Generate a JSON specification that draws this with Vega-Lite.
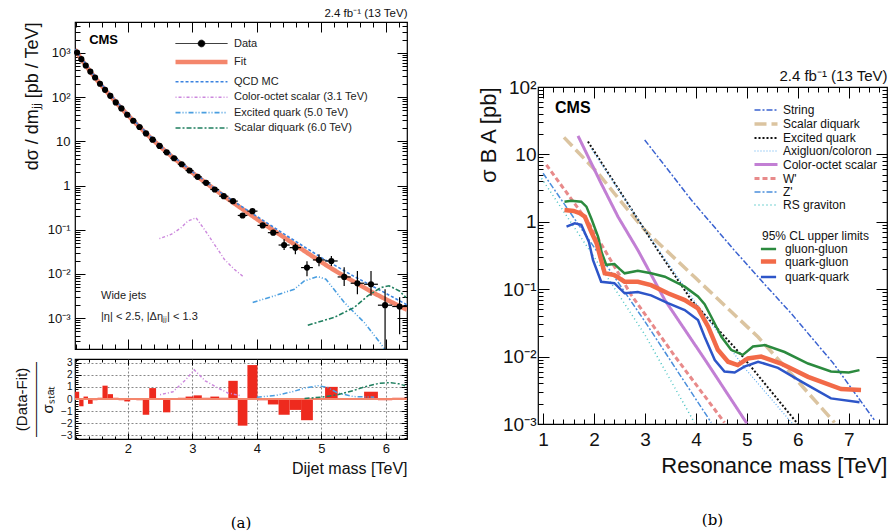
{
"$schema": "https://vega.github.io/schema/vega-lite/v6.json",
"background": "white",
"padding": {"left": 13, "top": 6, "right": 0, "bottom": 0},
"datasets": {
"pts": [
{"m":1.2135,"lo":1.181,"hi":1.246,"y":1020,"ylo":1005,"yhi":1035,"r":0.6},
{"m":1.2795,"lo":1.246,"hi":1.313,"y":721,"ylo":711,"yhi":731,"r":-0.6},
{"m":1.348,"lo":1.313,"hi":1.383,"y":518,"ylo":511,"yhi":525,"r":0.2},
{"m":1.419,"lo":1.383,"hi":1.455,"y":378,"ylo":372,"yhi":384,"r":-0.4},
{"m":1.4925,"lo":1.455,"hi":1.53,"y":277,"ylo":272,"yhi":282,"r":-0.1},
{"m":1.5685,"lo":1.53,"hi":1.607,"y":200,"ylo":196,"yhi":204,"r":0.1},
{"m":1.647,"lo":1.607,"hi":1.687,"y":146,"ylo":143,"yhi":149,"r":1.1},
{"m":1.7285,"lo":1.687,"hi":1.77,"y":107,"ylo":105,"yhi":109,"r":0.4},
{"m":1.813,"lo":1.77,"hi":1.856,"y":75.7,"ylo":74,"yhi":77.4,"r":0.1},
{"m":1.9005,"lo":1.856,"hi":1.945,"y":55.5,"ylo":54.2,"yhi":56.8,"r":-0.1},
{"m":1.991,"lo":1.945,"hi":2.037,"y":39.9,"ylo":38.9,"yhi":40.9,"r":-0.2},
{"m":2.0845,"lo":2.037,"hi":2.132,"y":29.2,"ylo":28.4,"yhi":30,"r":0.05},
{"m":2.1815,"lo":2.132,"hi":2.231,"y":21.1,"ylo":20.5,"yhi":21.7,"r":-0.1},
{"m":2.2815,"lo":2.231,"hi":2.332,"y":15.1,"ylo":14.6,"yhi":15.6,"r":-1.3},
{"m":2.385,"lo":2.332,"hi":2.438,"y":10.9,"ylo":10.5,"yhi":11.3,"r":0.9},
{"m":2.492,"lo":2.438,"hi":2.546,"y":7.85,"ylo":7.55,"yhi":8.15,"r":0.02},
{"m":2.6025,"lo":2.546,"hi":2.659,"y":5.62,"ylo":5.38,"yhi":5.86,"r":-1.1},
{"m":2.717,"lo":2.659,"hi":2.775,"y":4.13,"ylo":3.94,"yhi":4.32,"r":0.02},
{"m":2.835,"lo":2.775,"hi":2.895,"y":3.02,"ylo":2.87,"yhi":3.17,"r":0.1},
{"m":2.957,"lo":2.895,"hi":3.019,"y":2.18,"ylo":2.06,"yhi":2.3,"r":0.2},
{"m":3.083,"lo":3.019,"hi":3.147,"y":1.57,"ylo":1.47,"yhi":1.67,"r":0.3},
{"m":3.213,"lo":3.147,"hi":3.279,"y":1.15,"ylo":1.07,"yhi":1.23,"r":0.1},
{"m":3.3475,"lo":3.279,"hi":3.416,"y":0.813,"ylo":0.75,"yhi":0.88,"r":0.2},
{"m":3.487,"lo":3.416,"hi":3.558,"y":0.573,"ylo":0.52,"yhi":0.63,"r":0.1},
{"m":3.631,"lo":3.558,"hi":3.704,"y":0.443,"ylo":0.4,"yhi":0.49,"r":1.5},
{"m":3.779,"lo":3.704,"hi":3.854,"y":0.21,"ylo":0.185,"yhi":0.237,"r":-2.2},
{"m":3.932,"lo":3.854,"hi":4.01,"y":0.263,"ylo":0.235,"yhi":0.295,"r":2.8},
{"m":4.0905,"lo":4.01,"hi":4.171,"y":0.125,"ylo":0.11,"yhi":0.142,"r":-0.1},
{"m":4.254,"lo":4.171,"hi":4.337,"y":0.0857,"ylo":0.075,"yhi":0.098,"r":-0.45},
{"m":4.423,"lo":4.337,"hi":4.509,"y":0.045,"ylo":0.0347,"yhi":0.0605,"r":-1.3},
{"m":4.5975,"lo":4.509,"hi":4.686,"y":0.0393,"ylo":0.0277,"yhi":0.049,"r":-0.9},
{"m":4.7775,"lo":4.686,"hi":4.869,"y":0.0139,"ylo":0.00885,"yhi":0.0193,"r":-1.75},
{"m":4.9635,"lo":4.869,"hi":5.058,"y":0.0207,"ylo":0.0149,"yhi":0.0277,"r":0.05},
{"m":5.1555,"lo":5.058,"hi":5.253,"y":0.0196,"ylo":0.0151,"yhi":0.0254,"r":1.0},
{"m":5.354,"lo":5.253,"hi":5.455,"y":0.00853,"ylo":0.0053,"yhi":0.0141,"r":0.02},
{"m":5.559,"lo":5.455,"hi":5.663,"y":0.00615,"ylo":0.00347,"yhi":0.0117,"r":0.02},
{"m":5.77,"lo":5.663,"hi":5.877,"y":0.00583,"ylo":0.0032,"yhi":0.0117,"r":0.6},
{"m":5.988,"lo":5.877,"hi":6.099,"y":0.00196,"ylo":0.00005,"yhi":0.0045,"r":-0.1},
{"m":6.2135,"lo":6.099,"hi":6.328,"y":0.00183,"ylo":0.00043,"yhi":0.00296,"r":0.1}
],
"curvesA": [
{"s":"Fit","m":1.181,"v":1202},{"s":"Fit","m":1.2135,"v":1012},{"s":"Fit","m":1.2795,"v":721},{"s":"Fit","m":1.348,"v":518},{"s":"Fit","m":1.419,"v":376},{"s":"Fit","m":1.4925,"v":275},{"s":"Fit","m":1.5685,"v":200},{"s":"Fit","m":1.647,"v":146},{"s":"Fit","m":1.7285,"v":107},{"s":"Fit","m":1.813,"v":76.7},{"s":"Fit","m":1.9005,"v":55.6},{"s":"Fit","m":1.991,"v":40.3},{"s":"Fit","m":2.0845,"v":29.2},{"s":"Fit","m":2.1815,"v":21.1},{"s":"Fit","m":2.2815,"v":15.1},{"s":"Fit","m":2.385,"v":10.9},{"s":"Fit","m":2.492,"v":7.85},{"s":"Fit","m":2.6025,"v":5.65},{"s":"Fit","m":2.717,"v":4.11},{"s":"Fit","m":2.835,"v":3.0},{"s":"Fit","m":2.957,"v":2.18},{"s":"Fit","m":3.083,"v":1.58},{"s":"Fit","m":3.213,"v":1.14},{"s":"Fit","m":3.3475,"v":0.817},{"s":"Fit","m":3.487,"v":0.582},{"s":"Fit","m":3.631,"v":0.412},{"s":"Fit","m":3.779,"v":0.292},{"s":"Fit","m":3.932,"v":0.204},{"s":"Fit","m":4.0905,"v":0.141},{"s":"Fit","m":4.254,"v":0.0977},{"s":"Fit","m":4.423,"v":0.0668},{"s":"Fit","m":4.5975,"v":0.0452},{"s":"Fit","m":4.7775,"v":0.0302},{"s":"Fit","m":4.9635,"v":0.02},{"s":"Fit","m":5.1555,"v":0.0133},{"s":"Fit","m":5.354,"v":0.00891},{"s":"Fit","m":5.559,"v":0.00603},{"s":"Fit","m":5.77,"v":0.00398},{"s":"Fit","m":5.988,"v":0.00272},{"s":"Fit","m":6.2135,"v":0.00186},{"s":"Fit","m":6.328,"v":0.00155},
{"s":"QCD MC","m":1.181,"v":1210},{"s":"QCD MC","m":1.5,"v":280},{"s":"QCD MC","m":2.0,"v":40.5},{"s":"QCD MC","m":2.5,"v":7.95},{"s":"QCD MC","m":3.0,"v":2.05},{"s":"QCD MC","m":3.5,"v":0.6},{"s":"QCD MC","m":4.0,"v":0.2},{"s":"QCD MC","m":4.5,"v":0.0676},{"s":"QCD MC","m":5.0,"v":0.0234},{"s":"QCD MC","m":5.5,"v":0.0089},{"s":"QCD MC","m":6.0,"v":0.00363},{"s":"QCD MC","m":6.328,"v":0.002},
{"s":"Color-octet scalar (3.1 TeV)","m":2.489,"v":0.063},{"s":"Color-octet scalar (3.1 TeV)","m":2.67,"v":0.078},{"s":"Color-octet scalar (3.1 TeV)","m":2.824,"v":0.11},{"s":"Color-octet scalar (3.1 TeV)","m":2.928,"v":0.156},{"s":"Color-octet scalar (3.1 TeV)","m":3.057,"v":0.186},{"s":"Color-octet scalar (3.1 TeV)","m":3.186,"v":0.102},{"s":"Color-octet scalar (3.1 TeV)","m":3.341,"v":0.047},{"s":"Color-octet scalar (3.1 TeV)","m":3.496,"v":0.0214},{"s":"Color-octet scalar (3.1 TeV)","m":3.65,"v":0.0127},{"s":"Color-octet scalar (3.1 TeV)","m":3.78,"v":0.0089},
{"s":"Excited quark (5.0 TeV)","m":3.936,"v":0.00226},{"s":"Excited quark (5.0 TeV)","m":4.27,"v":0.00318},{"s":"Excited quark (5.0 TeV)","m":4.581,"v":0.00451},{"s":"Excited quark (5.0 TeV)","m":4.736,"v":0.00692},{"s":"Excited quark (5.0 TeV)","m":4.944,"v":0.0087},{"s":"Excited quark (5.0 TeV)","m":5.07,"v":0.0076},{"s":"Excited quark (5.0 TeV)","m":5.356,"v":0.00226},{"s":"Excited quark (5.0 TeV)","m":5.667,"v":0.00079},{"s":"Excited quark (5.0 TeV)","m":5.925,"v":0.00026},{"s":"Excited quark (5.0 TeV)","m":6.0,"v":0.00018},
{"s":"Scalar diquark (6.0 TeV)","m":4.79,"v":0.00069},{"s":"Scalar diquark (6.0 TeV)","m":5.2,"v":0.00104},{"s":"Scalar diquark (6.0 TeV)","m":5.51,"v":0.00174},{"s":"Scalar diquark (6.0 TeV)","m":5.72,"v":0.00318},{"s":"Scalar diquark (6.0 TeV)","m":5.925,"v":0.00492},{"s":"Scalar diquark (6.0 TeV)","m":6.05,"v":0.00537},{"s":"Scalar diquark (6.0 TeV)","m":6.21,"v":0.00412},{"s":"Scalar diquark (6.0 TeV)","m":6.31,"v":0.00295}
],
"ratioSig": [
{"s":"Color-octet scalar (3.1 TeV)","m":2.5,"v":0.35},{"s":"Color-octet scalar (3.1 TeV)","m":2.7,"v":0.6},{"s":"Color-octet scalar (3.1 TeV)","m":2.9,"v":1.6},{"s":"Color-octet scalar (3.1 TeV)","m":3.03,"v":2.4},{"s":"Color-octet scalar (3.1 TeV)","m":3.2,"v":1.5},{"s":"Color-octet scalar (3.1 TeV)","m":3.4,"v":0.9},{"s":"Color-octet scalar (3.1 TeV)","m":3.55,"v":0.5},{"s":"Color-octet scalar (3.1 TeV)","m":3.75,"v":0.27},
{"s":"Excited quark (5.0 TeV)","m":4.0,"v":0.15},{"s":"Excited quark (5.0 TeV)","m":4.3,"v":0.3},{"s":"Excited quark (5.0 TeV)","m":4.55,"v":0.6},{"s":"Excited quark (5.0 TeV)","m":4.74,"v":0.9},{"s":"Excited quark (5.0 TeV)","m":4.95,"v":1.1},{"s":"Excited quark (5.0 TeV)","m":5.1,"v":0.95},{"s":"Excited quark (5.0 TeV)","m":5.25,"v":0.5},{"s":"Excited quark (5.0 TeV)","m":5.5,"v":0.2},{"s":"Excited quark (5.0 TeV)","m":5.82,"v":0.15},
{"s":"Scalar diquark (6.0 TeV)","m":4.74,"v":0.05},{"s":"Scalar diquark (6.0 TeV)","m":5.0,"v":0.15},{"s":"Scalar diquark (6.0 TeV)","m":5.25,"v":0.35},{"s":"Scalar diquark (6.0 TeV)","m":5.5,"v":0.7},{"s":"Scalar diquark (6.0 TeV)","m":5.67,"v":1.0},{"s":"Scalar diquark (6.0 TeV)","m":5.9,"v":1.3},{"s":"Scalar diquark (6.0 TeV)","m":6.08,"v":1.35},{"s":"Scalar diquark (6.0 TeV)","m":6.2,"v":1.25},{"s":"Scalar diquark (6.0 TeV)","m":6.3,"v":1.1}
],
"theory": [
{"s":"String","m":2.994,"v":16.4},{"s":"String","m":3.5,"v":5.3},{"s":"String","m":3.91,"v":2.1},{"s":"String","m":4.75,"v":0.38},{"s":"String","m":5.3,"v":0.13},{"s":"String","m":5.87,"v":0.0437},{"s":"String","m":6.7,"v":0.0079},{"s":"String","m":7.5,"v":0.00115},
{"s":"Scalar diquark","m":1.41,"v":17.9},{"s":"Scalar diquark","m":2.08,"v":5.25},{"s":"Scalar diquark","m":2.4,"v":2.63},{"s":"Scalar diquark","m":2.99,"v":0.76},{"s":"Scalar diquark","m":4.0,"v":0.145},{"s":"Scalar diquark","m":5.22,"v":0.0195},{"s":"Scalar diquark","m":6.0,"v":0.0043},{"s":"Scalar diquark","m":6.72,"v":0.00105},
{"s":"Excited quark","m":1.88,"v":15.5},{"s":"Excited quark","m":2.5,"v":2.9},{"s":"Excited quark","m":3.25,"v":0.38},{"s":"Excited quark","m":3.91,"v":0.069},{"s":"Excited quark","m":4.89,"v":0.0106},{"s":"Excited quark","m":6.0,"v":0.001},
{"s":"Axigluon/coloron","m":1.95,"v":12},{"s":"Axigluon/coloron","m":3.0,"v":0.75},{"s":"Axigluon/coloron","m":4.0,"v":0.062},{"s":"Axigluon/coloron","m":5.0,"v":0.0062},{"s":"Axigluon/coloron","m":5.9,"v":0.001},
{"s":"Color-octet scalar","m":1.686,"v":18.8},{"s":"Color-octet scalar","m":2.14,"v":3.7},{"s":"Color-octet scalar","m":2.47,"v":1.19},{"s":"Color-octet scalar","m":2.86,"v":0.38},{"s":"Color-octet scalar","m":3.39,"v":0.069},{"s":"Color-octet scalar","m":4.2,"v":0.0085},{"s":"Color-octet scalar","m":5.0,"v":0.00102},
{"s":"W'","m":1.065,"v":7.0},{"s":"W'","m":1.9,"v":0.95},{"s":"W'","m":2.73,"v":0.082},{"s":"W'","m":3.6,"v":0.0098},{"s":"W'","m":4.56,"v":0.00105},
{"s":"Z'","m":1.0,"v":5.25},{"s":"Z'","m":2.0,"v":0.42},{"s":"Z'","m":3.0,"v":0.033},{"s":"Z'","m":4.3,"v":0.00105},
{"s":"RS graviton","m":0.97,"v":4.4},{"s":"RS graviton","m":2.0,"v":0.3},{"s":"RS graviton","m":3.0,"v":0.021},{"s":"RS graviton","m":3.97,"v":0.00105}
],
"limits": [
{"s":"gluon-gluon","m":1.42,"v":1.99},{"s":"gluon-gluon","m":1.55,"v":2.05},{"s":"gluon-gluon","m":1.75,"v":1.99},{"s":"gluon-gluon","m":1.85,"v":1.68},{"s":"gluon-gluon","m":1.95,"v":1.1},{"s":"gluon-gluon","m":2.08,"v":0.6},{"s":"gluon-gluon","m":2.15,"v":0.35},{"s":"gluon-gluon","m":2.24,"v":0.23},{"s":"gluon-gluon","m":2.4,"v":0.236},{"s":"gluon-gluon","m":2.5,"v":0.2},{"s":"gluon-gluon","m":2.6,"v":0.172},{"s":"gluon-gluon","m":2.86,"v":0.188},{"s":"gluon-gluon","m":3.12,"v":0.172},{"s":"gluon-gluon","m":3.39,"v":0.153},{"s":"gluon-gluon","m":3.78,"v":0.109},{"s":"gluon-gluon","m":4.04,"v":0.078},{"s":"gluon-gluon","m":4.17,"v":0.06},{"s":"gluon-gluon","m":4.3,"v":0.039},{"s":"gluon-gluon","m":4.5,"v":0.0197},{"s":"gluon-gluon","m":4.69,"v":0.0126},{"s":"gluon-gluon","m":4.92,"v":0.0106},{"s":"gluon-gluon","m":5.12,"v":0.0141},{"s":"gluon-gluon","m":5.35,"v":0.0148},{"s":"gluon-gluon","m":5.74,"v":0.0117},{"s":"gluon-gluon","m":6.2,"v":0.0079},{"s":"gluon-gluon","m":6.65,"v":0.006},{"s":"gluon-gluon","m":7.0,"v":0.0058},{"s":"gluon-gluon","m":7.21,"v":0.0063},
{"s":"quark-gluon","m":1.42,"v":1.5},{"s":"quark-gluon","m":1.6,"v":1.45},{"s":"quark-gluon","m":1.72,"v":1.34},{"s":"quark-gluon","m":1.82,"v":1.19},{"s":"quark-gluon","m":1.95,"v":0.7},{"s":"quark-gluon","m":2.05,"v":0.48},{"s":"quark-gluon","m":2.21,"v":0.172},{"s":"quark-gluon","m":2.4,"v":0.162},{"s":"quark-gluon","m":2.6,"v":0.129},{"s":"quark-gluon","m":2.86,"v":0.129},{"s":"quark-gluon","m":3.12,"v":0.115},{"s":"quark-gluon","m":3.45,"v":0.087},{"s":"quark-gluon","m":3.78,"v":0.069},{"s":"quark-gluon","m":4.04,"v":0.052},{"s":"quark-gluon","m":4.24,"v":0.0278},{"s":"quark-gluon","m":4.43,"v":0.0126},{"s":"quark-gluon","m":4.63,"v":0.0084},{"s":"quark-gluon","m":4.82,"v":0.0075},{"s":"quark-gluon","m":5.02,"v":0.0094},{"s":"quark-gluon","m":5.28,"v":0.01},{"s":"quark-gluon","m":5.67,"v":0.0079},{"s":"quark-gluon","m":6.2,"v":0.005},{"s":"quark-gluon","m":6.85,"v":0.0033},{"s":"quark-gluon","m":7.24,"v":0.0032},
{"s":"quark-quark","m":1.46,"v":0.85},{"s":"quark-quark","m":1.62,"v":0.95},{"s":"quark-quark","m":1.75,"v":0.9},{"s":"quark-quark","m":1.9,"v":0.5},{"s":"quark-quark","m":1.98,"v":0.27},{"s":"quark-quark","m":2.14,"v":0.129},{"s":"quark-quark","m":2.4,"v":0.123},{"s":"quark-quark","m":2.6,"v":0.087},{"s":"quark-quark","m":2.86,"v":0.091},{"s":"quark-quark","m":3.12,"v":0.081},{"s":"quark-quark","m":3.45,"v":0.062},{"s":"quark-quark","m":3.78,"v":0.049},{"s":"quark-quark","m":4.04,"v":0.035},{"s":"quark-quark","m":4.17,"v":0.0197},{"s":"quark-quark","m":4.37,"v":0.0089},{"s":"quark-quark","m":4.56,"v":0.006},{"s":"quark-quark","m":4.76,"v":0.0058},{"s":"quark-quark","m":4.95,"v":0.0071},{"s":"quark-quark","m":5.22,"v":0.0084},{"s":"quark-quark","m":5.61,"v":0.0068},{"s":"quark-quark","m":6.13,"v":0.004},{"s":"quark-quark","m":6.65,"v":0.0024},{"s":"quark-quark","m":7.21,"v":0.0021}
]
},
"hconcat": [
{
"vconcat": [
{
"width": 332, "height": 327,
"layer": [
{"data": {"name": "curvesA"}, "mark": {"type": "line", "clip": true},
 "encoding": {
  "x": {"field": "m", "type": "quantitative", "scale": {"domain": [1.181, 6.328], "nice": false, "zero": false},
        "axis": {"orient": "bottom", "values": [2,3,4,5,6], "labels": false, "title": null, "tickSize": -10}},
  "y": {"field": "v", "type": "quantitative", "scale": {"type": "log", "domain": [0.0002, 5000], "nice": false},
        "axis": {"orient": "left", "values": [0.001,0.01,0.1,1,10,100,1000],
          "labelExpr": "datum.value === 1000 ? '10³' : datum.value === 100 ? '10²' : datum.value === 10 ? '10' : datum.value === 1 ? '1' : datum.value === 0.1 ? '10⁻¹' : datum.value === 0.01 ? '10⁻²' : datum.value === 0.001 ? '10⁻³' : ''",
          "labelFontSize": 13, "labelPadding": 15, "tickSize": -10,
          "title": "dσ / dmⱼⱼ   [pb / TeV]", "titleFontSize": 18, "titleAnchor": "end", "titlePadding": 6}},
  "color": {"field": "s", "type": "nominal",
    "scale": {"domain": ["Data","Fit","QCD MC","Color-octet scalar (3.1 TeV)","Excited quark (5.0 TeV)","Scalar diquark (6.0 TeV)"], "range": ["#000000","#f4866c","#3b83e0","#cc88dd","#4a9ee0","#1f7f5f"]},
    "legend": {"title": null, "orient": "none", "legendX": 118, "legendY": 15, "symbolType": "M-4.33,0H4.33", "symbolSize": 144, "labelFontSize": 11, "labelOffset": 24, "rowPadding": 3.4, "labelColor": "#222",
      "encode": {"symbols": {"update": {"shape": {"signal": "datum.label === 'Data' ? 'M-4.33,0H4.33M-0.55,0A0.55,0.55,0,1,0,0.55,0A0.55,0.55,0,1,0,-0.55,0' : 'M-4.33,0H4.33'"}, "fill": {"signal": "datum.label === 'Data' ? '#000' : 'transparent'"}}}}}},
  "strokeDash": {"field": "s", "type": "nominal",
    "scale": {"domain": ["Data","Fit","QCD MC","Color-octet scalar (3.1 TeV)","Excited quark (5.0 TeV)","Scalar diquark (6.0 TeV)"], "range": [[1,0],[1,0],[3,2],[1,2,3,2],[5,2,1,2,1,2],[5,2,2,2]]},
    "legend": {"title": null, "orient": "none", "legendX": 118, "legendY": 15, "symbolType": "M-4.33,0H4.33", "symbolSize": 144, "labelFontSize": 11, "labelOffset": 24, "rowPadding": 3.4, "labelColor": "#222",
      "encode": {"symbols": {"update": {"shape": {"signal": "datum.label === 'Data' ? 'M-4.33,0H4.33M-0.55,0A0.55,0.55,0,1,0,0.55,0A0.55,0.55,0,1,0,-0.55,0' : 'M-4.33,0H4.33'"}, "fill": {"signal": "datum.label === 'Data' ? '#000' : 'transparent'"}}}}}},
  "strokeWidth": {"field": "s", "type": "nominal",
    "scale": {"type": "ordinal", "domain": ["Data","Fit","QCD MC","Color-octet scalar (3.1 TeV)","Excited quark (5.0 TeV)","Scalar diquark (6.0 TeV)"], "range": [1,4.5,1.6,1.4,1.6,1.6]},
    "legend": {"title": null, "orient": "none", "legendX": 118, "legendY": 15, "symbolType": "M-4.33,0H4.33", "symbolSize": 144, "labelFontSize": 11, "labelOffset": 24, "rowPadding": 3.4, "labelColor": "#222",
      "encode": {"symbols": {"update": {"shape": {"signal": "datum.label === 'Data' ? 'M-4.33,0H4.33M-0.55,0A0.55,0.55,0,1,0,0.55,0A0.55,0.55,0,1,0,-0.55,0' : 'M-4.33,0H4.33'"}, "fill": {"signal": "datum.label === 'Data' ? '#000' : 'transparent'"}}}}}}
 }},
{"data": {"name": "pts"}, "mark": {"type": "rule", "color": "#000", "strokeWidth": 1.2, "clip": true},
 "encoding": {
  "x": {"field": "m", "type": "quantitative", "scale": {"domain": [1.181, 6.328], "nice": false, "zero": false},
        "axis": {"orient": "bottom", "values": [1.2,1.4,1.6,1.8,2.2,2.4,2.6,2.8,3.2,3.4,3.6,3.8,4.2,4.4,4.6,4.8,5.2,5.4,5.6,5.8,6.2], "labels": false, "title": null, "tickSize": -5}},
  "y": {"field": "ylo", "type": "quantitative", "scale": {"type": "log", "domain": [0.0002, 5000], "nice": false},
        "axis": {"orient": "left", "values": [0.0002,0.0003,0.0004,0.0005,0.0006,0.0007,0.0008,0.0009,0.002,0.003,0.004,0.005,0.006,0.007,0.008,0.009,0.02,0.03,0.04,0.05,0.06,0.07,0.08,0.09,0.2,0.3,0.4,0.5,0.6,0.7,0.8,0.9,2,3,4,5,6,7,8,9,20,30,40,50,60,70,80,90,200,300,400,500,600,700,800,900,2000,3000,4000,5000], "labels": false, "title": null, "tickSize": -5}},
  "y2": {"field": "yhi"}}},
{"data": {"name": "pts"}, "mark": {"type": "rule", "color": "#000", "strokeWidth": 1.2, "clip": true},
 "encoding": {
  "x": {"field": "lo", "type": "quantitative", "scale": {"domain": [1.181, 6.328], "nice": false, "zero": false},
        "axis": {"orient": "top", "values": [2,3,4,5,6], "labels": false, "title": null, "tickSize": -10}},
  "x2": {"field": "hi"},
  "y": {"field": "y", "type": "quantitative", "scale": {"type": "log", "domain": [0.0002, 5000], "nice": false},
        "axis": {"orient": "right", "values": [0.001,0.01,0.1,1,10,100,1000], "labels": false, "title": null, "tickSize": -10}}}},
{"data": {"name": "pts"}, "mark": {"type": "point", "shape": "circle", "filled": true, "color": "#000", "size": 38, "opacity": 1},
 "encoding": {
  "x": {"field": "m", "type": "quantitative", "scale": {"domain": [1.181, 6.328], "nice": false, "zero": false},
        "axis": {"orient": "top", "values": [1.2,1.4,1.6,1.8,2.2,2.4,2.6,2.8,3.2,3.4,3.6,3.8,4.2,4.4,4.6,4.8,5.2,5.4,5.6,5.8,6.2], "labels": false, "tickSize": -5,
                 "title": "2.4 fb⁻¹ (13 TeV)", "titleFontSize": 11.5, "titleAnchor": "end", "titlePadding": 3}},
  "y": {"field": "y", "type": "quantitative", "scale": {"type": "log", "domain": [0.0002, 5000], "nice": false},
        "axis": {"orient": "right", "values": [0.0002,0.0003,0.0004,0.0005,0.0006,0.0007,0.0008,0.0009,0.002,0.003,0.004,0.005,0.006,0.007,0.008,0.009,0.02,0.03,0.04,0.05,0.06,0.07,0.08,0.09,0.2,0.3,0.4,0.5,0.6,0.7,0.8,0.9,2,3,4,5,6,7,8,9,20,30,40,50,60,70,80,90,200,300,400,500,600,700,800,900,2000,3000,4000,5000], "labels": false, "title": null, "tickSize": -5}}}},
{"data": {"values": [{"t": "CMS", "m": 1.4, "v": 1950}]}, "mark": {"type": "text", "align": "left", "baseline": "middle", "fontSize": 13, "fontWeight": "bold", "font": "Liberation Sans"},
 "encoding": {
  "x": {"field": "m", "type": "quantitative", "scale": {"domain": [1.181, 6.328], "nice": false, "zero": false}, "axis": null},
  "y": {"field": "v", "type": "quantitative", "scale": {"type": "log", "domain": [0.0002, 5000], "nice": false}, "axis": null},
  "text": {"field": "t"}}},
{"data": {"values": [{"t": "Wide jets", "m": 1.584, "v": 0.00313}, {"t": "|η| < 2.5, |Δηⱼⱼ| < 1.3", "m": 1.584, "v": 0.00105}]}, "mark": {"type": "text", "align": "left", "baseline": "middle", "fontSize": 11, "font": "Liberation Sans", "color": "#222"},
 "encoding": {
  "x": {"field": "m", "type": "quantitative", "scale": {"domain": [1.181, 6.328], "nice": false, "zero": false}, "axis": null},
  "y": {"field": "v", "type": "quantitative", "scale": {"type": "log", "domain": [0.0002, 5000], "nice": false}, "axis": null},
  "text": {"field": "t"}}}
],
"resolve": {"axis": {"x": "independent", "y": "independent"}}
},
{
"width": 332, "height": 80,
"title": {"text": "(a)", "orient": "bottom", "anchor": "middle", "font": "DejaVu Serif", "fontSize": 15, "fontWeight": "normal", "offset": 40},
"layer": [
{"data": {"name": "pts"}, "mark": {"type": "rect", "color": "#ee2a1e", "clip": true},
 "encoding": {
  "x": {"field": "lo", "type": "quantitative", "scale": {"domain": [1.181, 6.328], "nice": false, "zero": false},
        "axis": {"orient": "bottom", "values": [2,3,4,5,6], "labelFontSize": 13, "labelPadding": 9, "tickSize": -6,
                 "grid": true, "gridDash": [2,2], "gridColor": "#888",
                 "title": "Dijet mass [TeV]", "titleFontSize": 16, "titleAnchor": "end", "titlePadding": 5}},
  "x2": {"field": "hi"},
  "y": {"field": "r", "type": "quantitative", "scale": {"domain": [-3.3, 3.3], "nice": false, "zero": false},
        "axis": {"orient": "left", "values": [-3,-2,-1,0,1,2,3],
                 "labelExpr": "datum.value < 0 ? '−' + format(-datum.value, 'd') : format(datum.value, 'd')", "labelFontSize": 10, "labelPadding": 9, "tickSize": -6,
                 "grid": true, "gridDash": [2,2], "gridColor": "#888",
                 "title": ["(Data-Fit)", "—————", "σₛₜₐₜ"], "titleFontSize": 15, "titleAnchor": "middle", "titlePadding": 5, "titleLineHeight": 13}},
  "y2": {"datum": 0}}},
{"data": {"values": [{"z": 0}]}, "mark": {"type": "rule", "color": "#f4866c", "strokeWidth": 2},
 "encoding": {"y": {"field": "z", "type": "quantitative", "scale": {"domain": [-3.3, 3.3], "nice": false, "zero": false}, "axis": null}}},
{"data": {"name": "ratioSig"}, "mark": {"type": "line", "clip": true, "strokeWidth": 1.5},
 "encoding": {
  "x": {"field": "m", "type": "quantitative", "scale": {"domain": [1.181, 6.328], "nice": false, "zero": false},
        "axis": {"orient": "bottom", "values": [1.2,1.4,1.6,1.8,2.2,2.4,2.6,2.8,3.2,3.4,3.6,3.8,4.2,4.4,4.6,4.8,5.2,5.4,5.6,5.8,6.2], "labels": false, "title": null, "tickSize": -3}},
  "y": {"field": "v", "type": "quantitative", "scale": {"domain": [-3.3, 3.3], "nice": false, "zero": false},
        "axis": {"orient": "left", "values": [-3.2,-2.8,-2.6,-2.4,-2.2,-1.8,-1.6,-1.4,-1.2,-0.8,-0.6,-0.4,-0.2,0.2,0.4,0.6,0.8,1.2,1.4,1.6,1.8,2.2,2.4,2.6,2.8,3.2], "labels": false, "title": null, "tickSize": -3}},
  "color": {"field": "s", "type": "nominal", "scale": {"domain": ["Color-octet scalar (3.1 TeV)","Excited quark (5.0 TeV)","Scalar diquark (6.0 TeV)"], "range": ["#cc88dd","#4a9ee0","#1f7f5f"]}, "legend": null},
  "strokeDash": {"field": "s", "type": "nominal", "scale": {"domain": ["Color-octet scalar (3.1 TeV)","Excited quark (5.0 TeV)","Scalar diquark (6.0 TeV)"], "range": [[1,2,3,2],[5,2,1,2,1,2],[5,2,2,2]]}, "legend": null}}},
{"data": {"name": "pts"}, "mark": {"type": "point", "opacity": 0},
 "encoding": {
  "x": {"field": "m", "type": "quantitative", "scale": {"domain": [1.181, 6.328], "nice": false, "zero": false},
        "axis": {"orient": "top", "values": [2,3,4,5,6], "labels": false, "title": null, "tickSize": -6}},
  "y": {"field": "r", "type": "quantitative", "scale": {"domain": [-3.3, 3.3], "nice": false, "zero": false},
        "axis": {"orient": "right", "values": [-3,-2,-1,0,1,2,3], "labels": false, "title": null, "tickSize": -6}}}},
{"data": {"name": "pts"}, "mark": {"type": "point", "opacity": 0},
 "encoding": {
  "x": {"field": "m", "type": "quantitative", "scale": {"domain": [1.181, 6.328], "nice": false, "zero": false},
        "axis": {"orient": "top", "values": [1.2,1.4,1.6,1.8,2.2,2.4,2.6,2.8,3.2,3.4,3.6,3.8,4.2,4.4,4.6,4.8,5.2,5.4,5.6,5.8,6.2], "labels": false, "title": null, "tickSize": -3}},
  "y": {"field": "r", "type": "quantitative", "scale": {"domain": [-3.3, 3.3], "nice": false, "zero": false},
        "axis": {"orient": "right", "values": [-3.2,-2.8,-2.6,-2.4,-2.2,-1.8,-1.6,-1.4,-1.2,-0.8,-0.6,-0.4,-0.2,0.2,0.4,0.6,0.8,1.2,1.4,1.6,1.8,2.2,2.4,2.6,2.8,3.2], "labels": false, "title": null, "tickSize": -3}}}}
],
"resolve": {"axis": {"x": "independent", "y": "independent"}}
}
],
"spacing": 6,
"resolve": {"scale": {"color": "independent", "strokeDash": "independent", "strokeWidth": "independent"}}
},
{
"vconcat": [
{"width": 349, "height": 45, "view": {"stroke": null}, "data": {"values": [{"t": ""}]}, "mark": {"type": "text"}, "encoding": {"text": {"field": "t"}}},
{
"width": 349, "height": 337,
"title": {"text": "(b)", "orient": "bottom", "anchor": "middle", "font": "DejaVu Serif", "fontSize": 15, "fontWeight": "normal", "offset": 37},
"layer": [
{"data": {"name": "theory"}, "mark": {"type": "line", "clip": true},
 "encoding": {
  "x": {"field": "m", "type": "quantitative", "scale": {"domain": [0.9, 7.75], "nice": false, "zero": false},
        "axis": {"orient": "bottom", "values": [1,2,3,4,5,6,7], "labelFontSize": 19, "labelPadding": 17, "tickSize": -11,
                 "title": "Resonance mass [TeV]", "titleFontSize": 22, "titleAnchor": "end", "titlePadding": 6}},
  "y": {"field": "v", "type": "quantitative", "scale": {"type": "log", "domain": [0.001, 100], "nice": false},
        "axis": {"orient": "left", "values": [0.001,0.01,0.1,1,10,100],
                 "labelExpr": "datum.value === 100 ? '10²' : datum.value === 10 ? '10' : datum.value === 1 ? '1' : datum.value === 0.1 ? '10⁻¹' : datum.value === 0.01 ? '10⁻²' : datum.value === 0.001 ? '10⁻³' : ''",
                 "labelFontSize": 19, "labelPadding": 13, "tickSize": -11,
                 "title": "σ B A [pb]", "titleFontSize": 22, "titleAnchor": "end", "titlePadding": 2}},
  "color": {"field": "s", "type": "nominal",
    "scale": {"domain": ["String","Scalar diquark","Excited quark","Axigluon/coloron","Color-octet scalar","W'","Z'","RS graviton"], "range": ["#3a62d0","#dbc4a0","#111111","#5aaaf0","#c27fd4","#e88a8a","#4b8fdc","#4cc4c4"]},
    "legend": {"title": null, "orient": "none", "legendX": 221, "legendY": 17, "symbolType": "M-2.3,0H2.3", "symbolSize": 100, "labelFontSize": 12, "labelOffset": 10, "rowPadding": 1, "labelColor": "#111"}},
  "strokeDash": {"field": "s", "type": "nominal",
    "scale": {"domain": ["String","Scalar diquark","Excited quark","Axigluon/coloron","Color-octet scalar","W'","Z'","RS graviton"], "range": [[6,2,2,2],[12,5],[2,2],[1,2],[1,0],[5,3],[6,2,2,2],[1,3]]},
    "legend": {"title": null, "orient": "none", "legendX": 221, "legendY": 17, "symbolType": "M-2.3,0H2.3", "symbolSize": 100, "labelFontSize": 12, "labelOffset": 10, "rowPadding": 1, "labelColor": "#111"}},
  "strokeWidth": {"field": "s", "type": "nominal",
    "scale": {"type": "ordinal", "domain": ["String","Scalar diquark","Excited quark","Axigluon/coloron","Color-octet scalar","W'","Z'","RS graviton"], "range": [1.5,3.5,2,1.2,3,3,1.5,1.5]},
    "legend": {"title": null, "orient": "none", "legendX": 221, "legendY": 17, "symbolType": "M-2.3,0H2.3", "symbolSize": 100, "labelFontSize": 12, "labelOffset": 10, "rowPadding": 1, "labelColor": "#111"}}
 }},
{"data": {"name": "limits"}, "mark": {"type": "line", "clip": true},
 "encoding": {
  "x": {"field": "m", "type": "quantitative", "scale": {"domain": [0.9, 7.75], "nice": false, "zero": false},
        "axis": {"orient": "bottom", "values": [1.2,1.4,1.6,1.8,2.2,2.4,2.6,2.8,3.2,3.4,3.6,3.8,4.2,4.4,4.6,4.8,5.2,5.4,5.6,5.8,6.2,6.4,6.6,6.8,7.2,7.4,7.6], "labels": false, "title": null, "tickSize": -5}},
  "y": {"field": "v", "type": "quantitative", "scale": {"type": "log", "domain": [0.001, 100], "nice": false},
        "axis": {"orient": "left", "values": [0.002,0.003,0.004,0.005,0.006,0.007,0.008,0.009,0.02,0.03,0.04,0.05,0.06,0.07,0.08,0.09,0.2,0.3,0.4,0.5,0.6,0.7,0.8,0.9,2,3,4,5,6,7,8,9,20,30,40,50,60,70,80,90], "labels": false, "title": null, "tickSize": -5}},
  "color": {"field": "s", "type": "nominal", "scale": {"domain": ["gluon-gluon","quark-gluon","quark-quark"], "range": ["#2b8a3e","#f26a48","#2d55c8"]},
    "legend": {"title": "95% CL upper limits", "titleFontSize": 12, "titleFontWeight": "normal", "titleColor": "#111", "titlePadding": 0, "orient": "none", "legendX": 224, "legendY": 144, "symbolType": "M-1.9,0H1.9", "symbolSize": 64, "labelFontSize": 12, "labelOffset": 10, "rowPadding": -3, "labelColor": "#111"}},
  "strokeWidth": {"field": "s", "type": "nominal", "scale": {"type": "ordinal", "domain": ["gluon-gluon","quark-gluon","quark-quark"], "range": [2.5,4.5,2.5]},
    "legend": {"title": "95% CL upper limits", "titleFontSize": 12, "titleFontWeight": "normal", "titleColor": "#111", "titlePadding": 0, "orient": "none", "legendX": 224, "legendY": 144, "symbolType": "M-1.9,0H1.9", "symbolSize": 64, "labelFontSize": 12, "labelOffset": 10, "rowPadding": -3, "labelColor": "#111"}}
 }},
{"data": {"values": [{"t": "CMS", "m": 1.235, "v": 48}]}, "mark": {"type": "text", "align": "left", "baseline": "middle", "fontSize": 16, "fontWeight": "bold", "font": "Liberation Sans"},
 "encoding": {
  "x": {"field": "m", "type": "quantitative", "scale": {"domain": [0.9, 7.75], "nice": false, "zero": false}, "axis": null},
  "y": {"field": "v", "type": "quantitative", "scale": {"type": "log", "domain": [0.001, 100], "nice": false}, "axis": null},
  "text": {"field": "t"}}},
{"data": {"name": "limits"}, "mark": {"type": "point", "opacity": 0},
 "encoding": {
  "x": {"field": "m", "type": "quantitative", "scale": {"domain": [0.9, 7.75], "nice": false, "zero": false},
        "axis": {"orient": "top", "values": [1,2,3,4,5,6,7], "labels": false, "tickSize": -11,
                 "title": "2.4 fb⁻¹ (13 TeV)", "titleFontSize": 15, "titleAnchor": "end", "titlePadding": 3}},
  "y": {"field": "v", "type": "quantitative", "scale": {"type": "log", "domain": [0.001, 100], "nice": false},
        "axis": {"orient": "right", "values": [0.001,0.01,0.1,1,10,100], "labels": false, "title": null, "tickSize": -11}}}},
{"data": {"name": "limits"}, "mark": {"type": "point", "opacity": 0},
 "encoding": {
  "x": {"field": "m", "type": "quantitative", "scale": {"domain": [0.9, 7.75], "nice": false, "zero": false},
        "axis": {"orient": "top", "values": [1.2,1.4,1.6,1.8,2.2,2.4,2.6,2.8,3.2,3.4,3.6,3.8,4.2,4.4,4.6,4.8,5.2,5.4,5.6,5.8,6.2,6.4,6.6,6.8,7.2,7.4,7.6], "labels": false, "title": null, "tickSize": -5}},
  "y": {"field": "v", "type": "quantitative", "scale": {"type": "log", "domain": [0.001, 100], "nice": false},
        "axis": {"orient": "right", "values": [0.002,0.003,0.004,0.005,0.006,0.007,0.008,0.009,0.02,0.03,0.04,0.05,0.06,0.07,0.08,0.09,0.2,0.3,0.4,0.5,0.6,0.7,0.8,0.9,2,3,4,5,6,7,8,9,20,30,40,50,60,70,80,90], "labels": false, "title": null, "tickSize": -5}}}}
],
"resolve": {"axis": {"x": "independent", "y": "independent"}, "scale": {"color": "independent", "strokeDash": "independent", "strokeWidth": "independent"}}
}
],
"spacing": 0,
"resolve": {"scale": {"color": "independent", "strokeDash": "independent", "strokeWidth": "independent"}}
}
],
"spacing": 67,
"resolve": {"scale": {"color": "independent", "strokeDash": "independent", "strokeWidth": "independent"}},
"config": {
 "font": "Liberation Sans",
 "view": {"stroke": "#000", "strokeWidth": 1.2},
 "axis": {"domain": false, "grid": false, "tickColor": "#000", "tickWidth": 1, "labelColor": "#111", "titleColor": "#111", "labelFont": "Liberation Sans", "titleFont": "Liberation Sans", "titleFontWeight": "normal", "labelOverlap": false, "labelFlush": false, "labelBound": false},
 "legend": {"labelFont": "Liberation Sans", "titleFont": "Liberation Sans"}
}
}
